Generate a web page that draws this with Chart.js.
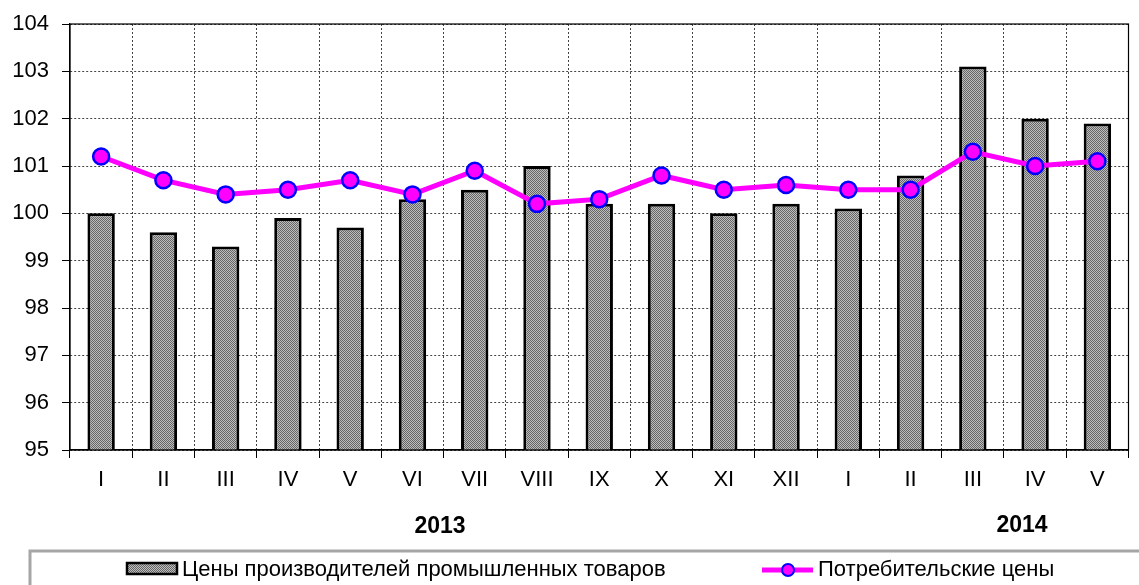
<!DOCTYPE html>
<html>
<head>
<meta charset="utf-8">
<script src="https://cdn.jsdelivr.net/npm/chart.js@4.4.0/dist/chart.umd.min.js"></script>
<style>
  body { margin: 0; background: #fff; }
  #wrap { width: 1139px; height: 585px; }
</style>
</head>
<body>
<div id="wrap"><canvas id="myChart" width="1139" height="585"></canvas></div>
<script>
const months = ['I', 'II', 'III', 'IV', 'V', 'VI', 'VII', 'VIII', 'IX', 'X', 'XI', 'XII', 'I', 'II', 'III', 'IV', 'V'];
const producerPrices = [100.0, 99.6, 99.3, 99.9, 99.7, 100.3, 100.5, 101.0, 100.2, 100.2, 100.0, 100.2, 100.1, 100.8, 103.1, 102.0, 101.9];
const consumerPrices = [101.2, 100.7, 100.4, 100.5, 100.7, 100.4, 100.9, 100.2, 100.3, 100.8, 100.5, 100.6, 100.5, 100.5, 101.3, 101.0, 101.1];
const years = ['2013', '2014'];
const seriesNames = ['Цены производителей промышленных товаров', 'Потребительские цены'];

const FONT = '"Liberation Sans", Arial, sans-serif';

// dotted gray fill like the original
function makePattern(c0) {
    const p = document.createElement('canvas');
    p.width = 2;
    p.height = 2;
    const c = p.getContext('2d');
    c.fillStyle = '#bdbdbd';
    c.fillRect(0, 0, 2, 2);
    c.fillStyle = '#666';
    c.fillRect(0, 0, 1, 1);
    c.fillRect(1, 1, 1, 1);
    return c0.createPattern(p, 'repeat');
}

const ctx = document.getElementById('myChart');
const pattern = makePattern(ctx.getContext('2d'));

const extras = {
    id: 'extras',
    afterDraw(chart) {
        const c = chart.ctx;
        const a = chart.chartArea;
        c.save();
        // frame around plot
        c.strokeStyle = '#000';
        c.lineWidth = 1.2;
        c.strokeRect(a.left, a.top, a.right - a.left, a.bottom - a.top);

        // year labels
        c.fillStyle = '#000';
        c.font = 'bold 23px ' + FONT;
        c.textAlign = 'center';
        c.textBaseline = 'middle';
        c.fillText(years[0], 440, 527);
        c.fillText(years[1], 1022, 526);

        // legend box
        c.strokeStyle = '#a6a6a6';
        c.lineWidth = 3;
        c.strokeRect(30, 551, 1200, 100);

        // legend item 1
        c.fillStyle = pattern;
        c.fillRect(127, 563, 50, 11);
        c.strokeStyle = '#000';
        c.lineWidth = 2.5;
        c.strokeRect(127, 563, 50, 11);
        c.fillStyle = '#000';
        c.font = '22px ' + FONT;
        c.textAlign = 'left';
        c.fillText(seriesNames[0], 182, 570);

        // legend item 2
        c.strokeStyle = '#ff00ff';
        c.lineWidth = 5;
        c.beginPath();
        c.moveTo(762, 570);
        c.lineTo(813, 570);
        c.stroke();
        c.beginPath();
        c.arc(788, 570, 6, 0, Math.PI * 2);
        c.fillStyle = '#ff00ff';
        c.fill();
        c.lineWidth = 2;
        c.strokeStyle = '#0000ff';
        c.stroke();
        c.fillStyle = '#000';
        c.fillText(seriesNames[1], 818, 570);
        c.restore();
    }
};

const myChart = new Chart(ctx, {
    type: 'bar',
    data: {
        labels: months,
        datasets: [{
            type: 'line',
            label: seriesNames[1],
            data: consumerPrices,
            borderColor: '#ff00ff',
            borderWidth: 5,
            pointRadius: 8,
            pointBackgroundColor: '#ff00ff',
            pointBorderColor: '#0000ff',
            pointBorderWidth: 2.5,
            tension: 0,
            order: 0
        }, {
            label: seriesNames[0],
            data: producerPrices,
            backgroundColor: pattern,
            borderColor: '#000',
            borderWidth: 3,
            borderSkipped: false,
            categoryPercentage: 1,
            barPercentage: 0.44,
            order: 1
        }]
    },
    options: {
        responsive: false,
        animation: false,
        layout: {
            padding: { top: 24, right: 3, left: 0, bottom: 90 }
        },
        plugins: {
            legend: { display: false },
            tooltip: { enabled: false }
        },
        scales: {
            x: {
                afterFit(s) { s.height = 45; },
                grid: {
                    offset: true,
                    color: '#444',
                    lineWidth: 1,
                    tickLength: 8,
                    tickColor: '#000',
                    tickBorderDash: []
                },
                border: { display: true, color: '#000', width: 1.2, dash: [2, 2] },
                ticks: {
                    color: '#000',
                    font: { family: FONT, size: 22, lineHeight: 1 },
                    padding: 11,
                    maxRotation: 0,
                    autoSkip: false
                }
            },
            y: {
                min: 95,
                max: 104,
                afterFit(s) { s.width = 70; },
                grid: {
                    color: '#444',
                    lineWidth: 1,
                    tickLength: 8,
                    tickColor: '#000',
                    tickBorderDash: []
                },
                border: { display: true, color: '#000', width: 1.2, dash: [2, 2] },
                ticks: {
                    stepSize: 1,
                    color: '#000',
                    font: { family: FONT, size: 22, lineHeight: 1 },
                    padding: 13
                }
            }
        }
    },
    plugins: [extras]
});
</script>
</body>
</html>
